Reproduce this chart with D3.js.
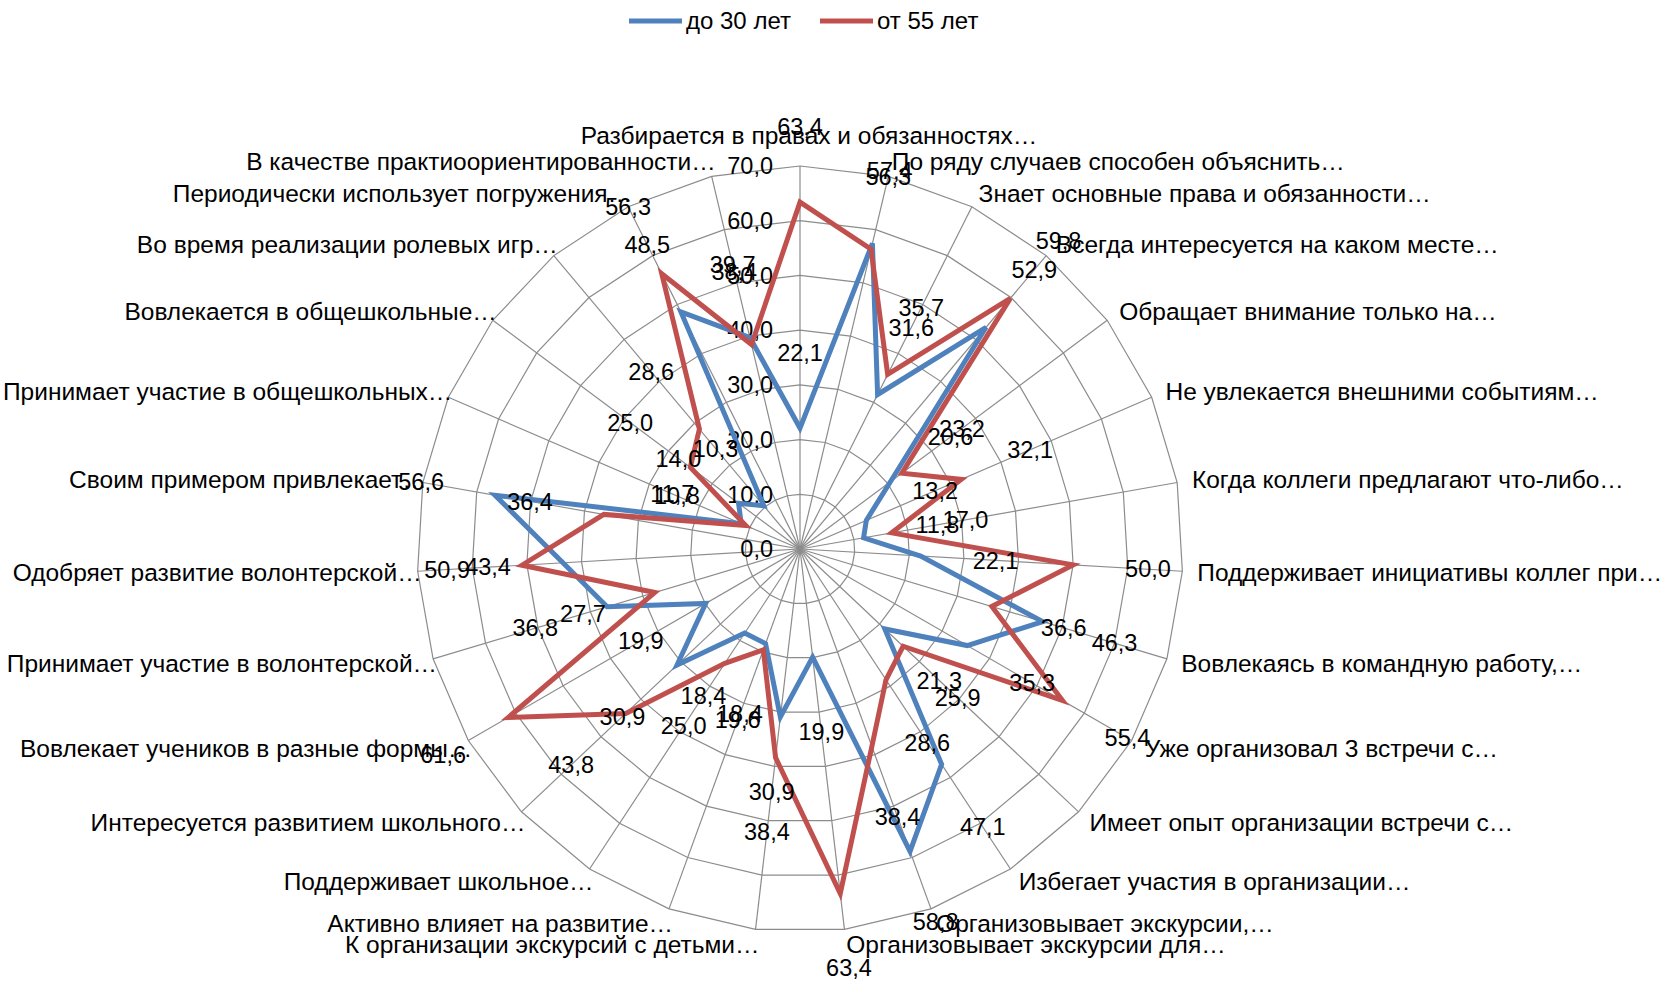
<!DOCTYPE html>
<html lang="ru">
<head>
<meta charset="UTF-8">
<title>до 30 лет / от 55 лет</title>
<script src="https://cdnjs.cloudflare.com/ajax/libs/d3/7.8.5/d3.min.js"></script>
<style>
  body { margin: 0; background: #fff; }
  svg { display: block; font-family: "Liberation Sans", Arial, sans-serif; }
  .grid { fill: none; stroke: #8c8c8c; stroke-width: 1.2; }
  .spoke { stroke: #8c8c8c; stroke-width: 1.2; }
  .tick, .val, .cat, .leg { fill: #000; }
</style>
</head>
<body>
<svg id="chart" width="1664" height="984"></svg>
<script>
// categories clockwise from the top
const categories = [
  "Разбирается в правах и обязанностях…",
  "По ряду случаев способен объяснить…",
  "Знает основные права и обязанности…",
  "Всегда интересуется на каком месте…",
  "Обращает внимание только на…",
  "Не увлекается внешними событиям…",
  "Когда коллеги предлагают что-либо…",
  "Поддерживает инициативы коллег при…",
  "Вовлекаясь в командную работу,…",
  "Уже организовал 3 встречи с…",
  "Имеет опыт организации встречи с…",
  "Избегает участия в организации…",
  "Организовывает экскурсии,…",
  "Организовывает экскурсии для…",
  "К  организации экскурсий с детьми…",
  "Активно влияет на развитие…",
  "Поддерживает школьное…",
  "Интересуется развитием школьного…",
  "Вовлекает учеников в разные формы…",
  "Принимает участие в волонтерской…",
  "Одобряет развитие волонтерской…",
  "Своим примером привлекает…",
  "Принимает участие в общешкольных…",
  "Вовлекается в общешкольные…",
  "Во время реализации ролевых игр…",
  "Периодически использует погружения…",
  "В качестве практиоориентированности…"
];
const under30 = [22.1, 57.4, 31.6, 52.9, 20.6, 13.2, 11.8, 22.1, 46.3, 35.3, 21.3, 47.1, 58.8, 19.9,
                 30.9, 18.4, 18.4, 30.9, 19.9, 36.8, 43.4, 56.6, 11.7, 14.0, 10.3, 48.5, 39.7];
const over55  = [63.4, 56.3, 35.7, 59.8, 23.2, 32.1, 17.0, 50.0, 36.6, 55.4, 25.9, 28.6, 38.4, 63.4,
                 38.4, 19.6, 25.0, 43.8, 61.6, 27.7, 50.9, 36.4, 10.8, 25.0, 28.6, 56.3, 38.4];
const seriesNames = ["до 30 лет", "от 55 лет"];
const ticks = [0, 10, 20, 30, 40, 50, 60, 70];

const colors = ["#4f81bd", "#c0504d"];
const cx = 800, cy = 549, R = 383;

const svg = d3.select("#chart");
const num = d3.formatLocale({decimal: ",", thousands: " ", grouping: [3], currency: ["", ""]}).format(".1f");

const r = d3.scaleLinear().domain([0, 70]).range([0, R]);
const angle = d3.scaleLinear().domain([0, categories.length]).range([0, 2 * Math.PI]);
const px = (i, rad) => rad * Math.sin(angle(i));
const py = (i, rad) => -rad * Math.cos(angle(i));

const g = svg.append("g").attr("transform", `translate(${cx},${cy})`);

// rings
const ring = d3.lineRadial()
  .angle((d, i) => angle(i))
  .radius(d => d)
  .curve(d3.curveLinearClosed);
g.selectAll(".grid").data(ticks).enter().append("path")
  .attr("class", "grid")
  .attr("d", t => ring(categories.map(() => r(t))));

// spokes
g.selectAll(".spoke").data(categories).enter().append("line")
  .attr("class", "spoke")
  .attr("x1", 0).attr("y1", 0)
  .attr("x2", (d, i) => px(i, R))
  .attr("y2", (d, i) => py(i, R));

// value axis labels
g.selectAll(".tick").data(ticks).enter().append("text")
  .attr("class", "tick")
  .attr("x", -27)
  .attr("y", t => -r(t))
  .attr("dy", "0.35em")
  .attr("text-anchor", "end")
  .style("font-size", "23.5px")
  .text(t => num(t));

// series
const line = d3.lineRadial()
  .angle((d, i) => angle(i))
  .radius(d => r(d))
  .curve(d3.curveLinearClosed);
const series = [under30, over55];
g.selectAll(".series").data(series).enter().append("path")
  .attr("class", "series")
  .attr("d", d => line(d))
  .attr("fill", "none")
  .attr("stroke", (d, i) => colors[i])
  .attr("stroke-width", 5)
  .attr("stroke-linejoin", "miter")
  .attr("stroke-miterlimit", 4);

// data labels, pushed outward along each spoke
const labelGap = 75;
series.forEach((vals, s) => {
  g.selectAll(".val" + s).data(vals).enter().append("text")
    .attr("class", "val val" + s)
    .attr("x", (d, i) => px(i, r(d) + labelGap))
    .attr("y", (d, i) => py(i, r(d) + labelGap))
    .attr("dy", "0.35em")
    .attr("text-anchor", "middle")
    .style("font-size", "23.5px")
    .text(d => num(d));
});

// category labels
g.selectAll(".cat").data(categories).enter().append("text")
  .attr("class", "cat")
  .each(function (d, i) {
    const s = Math.sin(angle(i)), c = Math.cos(angle(i));
    let x = px(i, R) + 15 * s, y = py(i, R) - 15 * c;
    let anchor = "start";
    if (Math.abs(s) < 0.05) { anchor = "middle"; y -= 16; x += 9; }
    else if (s < 0) { anchor = "end"; x = px(i, R) + 4; }
    d3.select(this).attr("x", x).attr("y", y).attr("dy", "0.35em")
      .attr("text-anchor", anchor);
  })
  .style("font-size", "24.5px")
  .text(d => d);

// legend
const legend = svg.append("g").attr("transform", "translate(629,21)");
const legX = [0, 191];
seriesNames.forEach((name, i) => {
  const item = legend.append("g").attr("transform", `translate(${legX[i]},0)`);
  item.append("line").attr("x1", 0).attr("x2", 53).attr("y1", 0).attr("y2", 0)
    .attr("stroke", colors[i]).attr("stroke-width", 5);
  item.append("text").attr("class", "leg").attr("x", 57).attr("dy", "0.35em")
    .style("font-size", "24px").text(name);
});
</script>
</body>
</html>
